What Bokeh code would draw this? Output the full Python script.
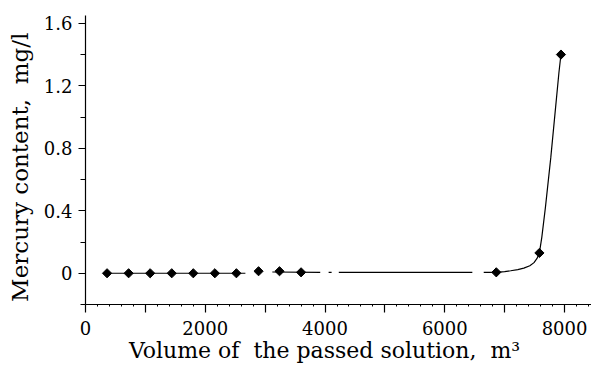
import math
from bokeh.plotting import figure
from bokeh.models import Range1d, FixedTicker
from bokeh.embed import file_html
from bokeh.resources import INLINE

# Measured mercury content in the outlet solution
volume = [360, 720, 1080, 1440, 1800, 2160, 2520, 2890, 3240, 3600, 6860, 7580, 7940]
mercury = [0, 0, 0, 0, 0, 0, 0, 0.013, 0.013, 0.006, 0.006, 0.13, 1.40]

# Breakthrough curve drawn through the points (NaN marks a break in the line)
curve_x = [360, 2670, float("nan"),
           3120, 3920, float("nan"),
           4060, 4110, float("nan"),
           4230, 6460, float("nan"),
           6650, 6860, 7000, 7100, 7220, 7320, 7420, 7490, 7540, 7580,
           7620, 7680, 7770, 7850, 7905, 7940]
curve_y = [0, 0, float("nan"),
           0.008, 0.006, float("nan"),
           0.006, 0.006, float("nan"),
           0.006, 0.006, float("nan"),
           0.006, 0.006, 0.011, 0.016, 0.023, 0.033, 0.048, 0.068, 0.095, 0.13,
           0.23, 0.42, 0.74, 1.06, 1.28, 1.40]

x_ticks = [0, 1000, 2000, 3000, 4000, 5000, 6000, 7000, 8000]
x_minor = [v for v in range(200, 8500, 200) if v % 1000 != 0]
y_ticks = [0, 0.4, 0.8, 1.2, 1.6]
y_minor = [-0.2, 0.2, 0.6, 1.0, 1.4]
y_tick_labels = {0: "0", 0.4: "0.4", 0.8: "0.8", 1.2: "1.2", 1.6: "1.6"}

p = figure(width=591, height=367, output_backend="svg", toolbar_location=None,
           x_range=Range1d(0, 8450), y_range=Range1d(-0.2, 1.65),
           min_border_left=85, min_border_right=0, min_border_top=15, min_border_bottom=63)
p.outline_line_color = None
p.grid.visible = False
p.background_fill_color = "white"
p.border_fill_color = "white"

p.line(curve_x, curve_y, line_color="black", line_width=1.2)
p.scatter(volume, mercury, marker="square", angle=math.pi / 4, size=6.5,
          fill_color="black", line_color="black", line_width=1)

font = "DejaVu Serif"
for ax in (p.xaxis[0], p.yaxis[0]):
    ax.axis_line_color = "black"
    ax.axis_line_width = 1.2
    ax.major_tick_line_color = "black"
    ax.minor_tick_line_color = "black"
    ax.major_tick_line_width = 1.2
    ax.major_tick_in = 0
    ax.minor_tick_in = 0
    ax.major_label_text_font = font
    ax.major_label_text_font_size = "18px"
    ax.major_label_text_color = "black"
    ax.axis_label_text_font = font
    ax.axis_label_text_font_style = "normal"
    ax.axis_label_text_color = "black"

nb = "\u00a0"
xa = p.xaxis[0]
xa.ticker = FixedTicker(ticks=x_ticks, minor_ticks=x_minor)
xa.major_label_overrides = {v: (str(v) if v % 2000 == 0 else "") for v in x_ticks}
xa.major_tick_out = 8
xa.minor_tick_out = 2
xa.major_label_standoff = 8
# trailing non-breaking spaces nudge the centred title a little to the left
xa.axis_label = "Volume of" + nb * 2 + "the passed solution," + nb * 2 + "m³" + nb * 4
xa.axis_label_text_font_size = "22px"
xa.axis_label_standoff = 0

ya = p.yaxis[0]
ya.ticker = FixedTicker(ticks=y_ticks, minor_ticks=y_minor)
ya.major_label_overrides = y_tick_labels
ya.major_label_orientation = "horizontal"
ya.major_tick_out = 7
ya.minor_tick_out = 5
ya.major_label_standoff = 6
ya.axis_label = "Mercury content," + nb * 2 + "mg/l" + nb * 2
ya.axis_label_text_font_size = "23px"
ya.axis_label_standoff = 8

open("out.html", "w").write(file_html(p, INLINE))
